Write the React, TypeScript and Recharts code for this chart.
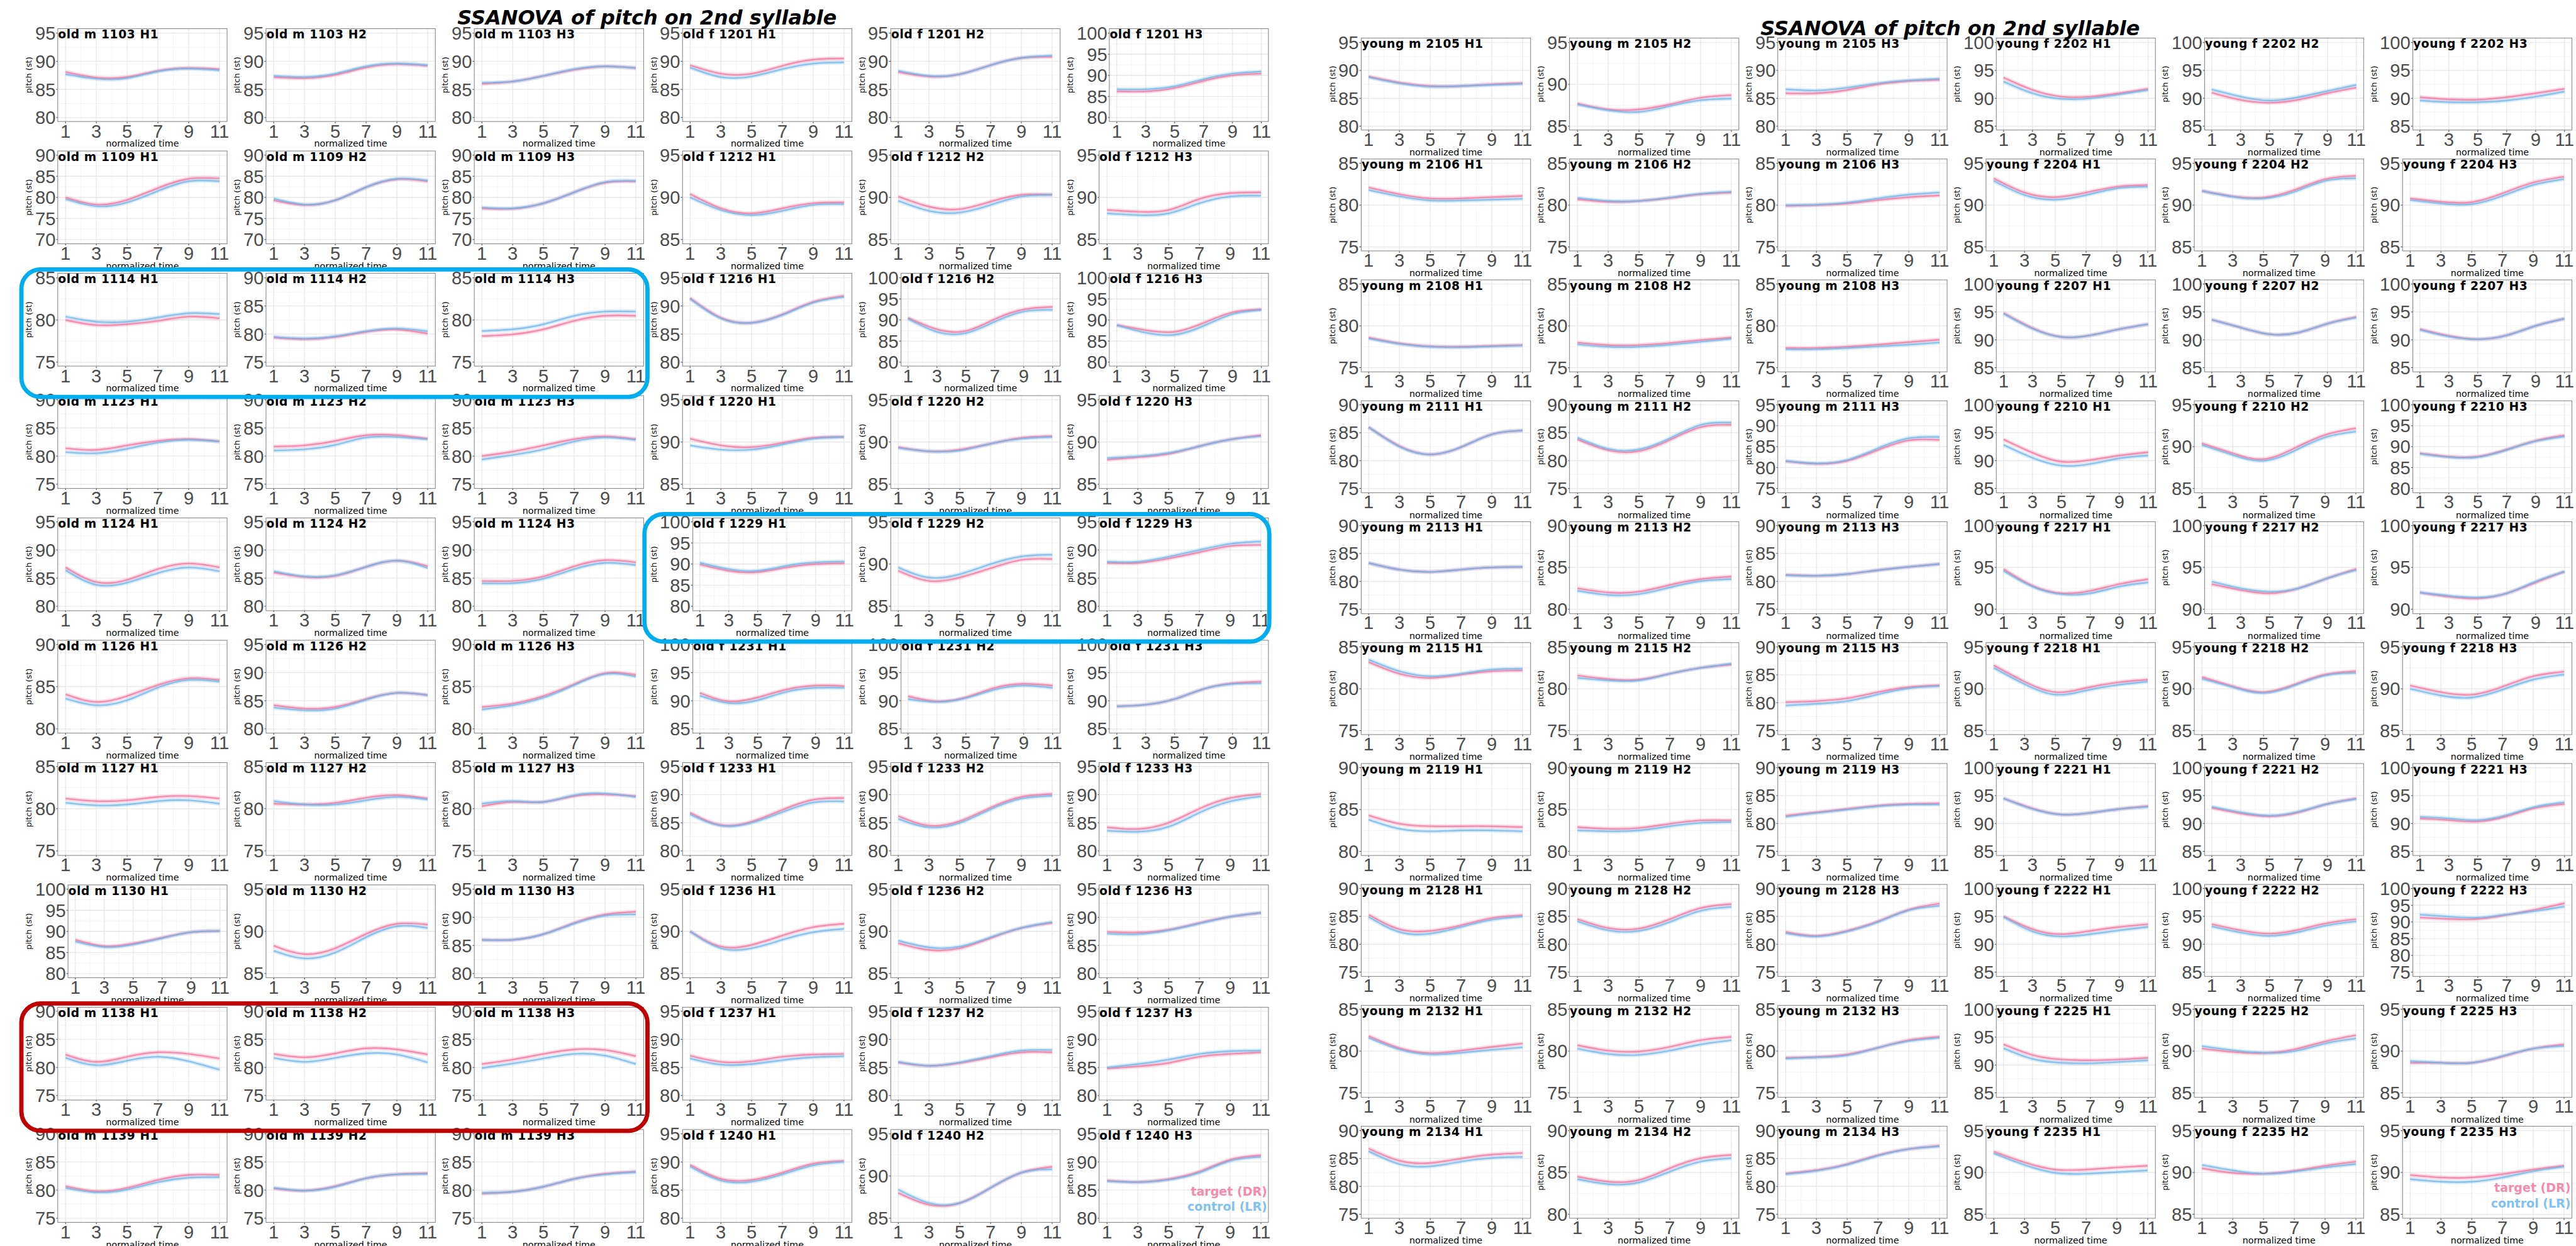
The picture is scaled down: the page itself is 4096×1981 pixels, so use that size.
import React from 'react';
import { LineChart, Line, XAxis, YAxis, CartesianGrid } from 'recharts';

const S = 0.68;

const TIME = [1, 3, 5, 7, 9, 11];
const TIME_MINOR = [2, 4, 6, 8, 10];
const HARMONICS = ['H1', 'H2', 'H3'];

const OLD_M = ['1103', '1109', '1114', '1123', '1124', '1126', '1127', '1130', '1138', '1139'];
const OLD_F = ['1201', '1212', '1216', '1220', '1229', '1231', '1233', '1236', '1237', '1240'];
const YOUNG_M = ['2105', '2106', '2108', '2111', '2113', '2115', '2119', '2128', '2132', '2134'];
const YOUNG_F = ['2202', '2204', '2207', '2210', '2217', '2218', '2221', '2222', '2225', '2235'];

// y limits per speaker, [lo, hi] for H1, H2, H3
const OLD_M_YLIM = [
  [[80, 95], [80, 95], [80, 95]],
  [[70, 90], [70, 90], [70, 90]],
  [[75, 85], [75, 90], [75, 85]],
  [[75, 90], [75, 90], [75, 90]],
  [[80, 95], [80, 95], [80, 95]],
  [[80, 90], [80, 95], [80, 90]],
  [[75, 85], [75, 85], [75, 85]],
  [[80, 100], [85, 95], [80, 95]],
  [[75, 90], [75, 90], [75, 90]],
  [[75, 90], [75, 90], [75, 90]],
];
const OLD_F_YLIM = [
  [[80, 95], [80, 95], [80, 100]],
  [[85, 95], [85, 95], [85, 95]],
  [[80, 95], [80, 100], [80, 100]],
  [[85, 95], [85, 95], [85, 95]],
  [[80, 100], [85, 95], [80, 95]],
  [[85, 100], [85, 100], [85, 100]],
  [[80, 95], [80, 95], [80, 95]],
  [[85, 95], [85, 95], [80, 95]],
  [[80, 95], [80, 95], [80, 95]],
  [[80, 95], [85, 95], [80, 95]],
];
const YOUNG_M_YLIM = [
  [[80, 95], [85, 95], [80, 95]],
  [[75, 85], [75, 85], [75, 85]],
  [[75, 85], [75, 85], [75, 85]],
  [[75, 90], [75, 90], [75, 95]],
  [[75, 90], [80, 90], [75, 90]],
  [[75, 85], [75, 85], [75, 90]],
  [[80, 90], [80, 90], [75, 90]],
  [[75, 90], [75, 90], [75, 90]],
  [[75, 85], [75, 85], [75, 85]],
  [[75, 90], [80, 90], [75, 90]],
];
const YOUNG_F_YLIM = [
  [[85, 100], [85, 100], [85, 100]],
  [[85, 95], [85, 95], [85, 95]],
  [[85, 100], [85, 100], [85, 100]],
  [[85, 100], [85, 95], [80, 100]],
  [[90, 100], [90, 100], [90, 100]],
  [[85, 95], [85, 95], [85, 95]],
  [[85, 100], [85, 100], [85, 100]],
  [[85, 100], [85, 100], [75, 100]],
  [[85, 100], [85, 95], [85, 95]],
  [[85, 95], [85, 95], [85, 95]],
];

// pitch (st) at normalized time 1,3,5,7,9,11
const OLD_M_TARGET = [
  [[88.1, 87.1, 87.2, 88.3, 88.8, 88.6], [87.2, 87.0, 87.6, 88.9, 89.5, 89.2], [86.0, 86.4, 87.4, 88.5, 89.1, 88.8]],
  [[80.0, 78.3, 79.4, 82.2, 84.4, 84.5], [79.3, 78.2, 79.3, 82.4, 84.3, 83.8], [77.4, 77.3, 78.6, 81.2, 83.5, 83.8]],
  [[80.0, 79.4, 79.5, 79.9, 80.4, 80.2], [79.4, 79.1, 79.5, 80.4, 80.8, 80.1], [78.1, 78.3, 78.9, 79.9, 80.5, 80.5]],
  [[81.4, 81.1, 81.9, 82.7, 83.0, 82.6], [81.7, 81.9, 82.7, 83.7, 83.7, 83.1], [80.0, 80.8, 81.9, 83.0, 83.5, 83.0]],
  [[86.9, 84.3, 84.7, 86.6, 87.6, 86.9], [86.0, 85.2, 85.4, 87.0, 88.1, 87.1], [84.5, 84.5, 85.3, 87.1, 88.2, 87.8]],
  [[84.1, 83.2, 83.9, 85.2, 86.0, 85.8], [84.2, 83.6, 83.9, 85.3, 86.4, 86.0], [82.6, 83.0, 83.9, 85.3, 86.6, 86.4]],
  [[81.2, 80.9, 81.0, 81.4, 81.5, 81.2], [80.6, 80.5, 80.7, 81.3, 81.6, 81.2], [80.3, 80.8, 80.8, 81.5, 81.7, 81.5]],
  [[88.0, 86.5, 87.1, 88.5, 89.8, 90.1], [88.3, 87.3, 88.0, 89.7, 90.9, 90.8], [86.0, 86.0, 87.0, 89.0, 90.5, 91.0]],
  [[82.3, 81.0, 81.9, 82.7, 82.4, 81.6], [82.4, 81.8, 82.5, 83.4, 83.2, 82.3], [80.6, 81.4, 82.4, 83.2, 83.1, 82.0]],
  [[80.7, 79.8, 80.4, 81.8, 82.7, 82.7], [80.3, 79.9, 80.7, 82.1, 82.8, 83.0], [79.4, 79.7, 80.6, 82.0, 82.9, 83.3]],
];
const OLD_M_CONTROL = [
  [[87.7, 86.9, 87.0, 88.2, 88.7, 88.4], [87.4, 87.2, 87.8, 89.1, 89.6, 89.3], [86.2, 86.4, 87.4, 88.6, 89.1, 88.8]],
  [[79.6, 77.9, 78.8, 81.5, 83.8, 83.8], [79.7, 78.3, 79.3, 82.4, 84.4, 84.0], [77.6, 77.4, 78.6, 81.2, 83.6, 83.9]],
  [[80.4, 79.8, 79.8, 80.3, 80.8, 80.7], [79.5, 79.2, 79.6, 80.5, 81.0, 80.5], [78.7, 78.9, 79.5, 80.5, 81.0, 81.0]],
  [[80.7, 80.5, 81.3, 82.4, 82.9, 82.6], [81.0, 81.2, 82.0, 83.3, 83.4, 83.0], [79.4, 80.2, 81.2, 82.6, 83.3, 82.9]],
  [[86.4, 83.8, 84.2, 85.9, 86.9, 86.2], [86.2, 85.3, 85.5, 87.0, 88.1, 86.8], [84.1, 84.1, 84.9, 86.6, 87.7, 87.3]],
  [[83.6, 82.8, 83.4, 84.9, 85.8, 85.6], [83.8, 83.3, 83.6, 85.2, 86.4, 86.0], [82.3, 82.8, 83.7, 85.2, 86.5, 86.2]],
  [[80.7, 80.4, 80.5, 80.9, 81.0, 80.6], [80.9, 80.5, 80.5, 81.0, 81.4, 81.1], [80.6, 80.9, 80.8, 81.6, 81.8, 81.4]],
  [[87.6, 86.3, 86.9, 88.4, 89.8, 90.1], [87.7, 86.8, 87.5, 89.3, 90.6, 90.4], [86.0, 86.0, 87.0, 88.9, 90.3, 90.5]],
  [[81.7, 80.4, 81.2, 81.9, 81.1, 79.6], [81.7, 81.0, 81.7, 82.5, 82.3, 80.9], [79.9, 80.7, 81.6, 82.4, 82.1, 80.6]],
  [[80.4, 79.6, 80.1, 81.4, 82.2, 82.3], [80.4, 79.9, 80.6, 82.1, 82.8, 82.9], [79.5, 79.7, 80.6, 82.0, 82.8, 83.2]],
];
const OLD_F_TARGET = [
  [[89.3, 87.8, 87.8, 89.2, 90.3, 90.5], [88.1, 87.3, 87.7, 89.3, 90.6, 90.8], [86.2, 86.2, 87.0, 88.7, 90.0, 90.4]],
  [[90.4, 88.7, 88.1, 88.7, 89.3, 89.4], [90.1, 88.9, 88.6, 89.5, 90.3, 90.3], [88.5, 88.3, 88.5, 89.8, 90.5, 90.6]],
  [[91.4, 87.9, 87.0, 88.5, 90.7, 91.8], [90.5, 87.8, 87.4, 90.2, 92.5, 93.1], [88.8, 87.6, 87.2, 89.3, 91.8, 92.5]],
  [[90.4, 89.6, 89.4, 89.9, 90.5, 90.6], [89.4, 88.9, 89.1, 89.8, 90.5, 90.7], [87.9, 88.2, 88.6, 89.5, 90.3, 90.8]],
  [[89.9, 88.4, 88.1, 89.2, 90.0, 90.2], [89.2, 88.0, 88.4, 89.5, 90.5, 90.6], [87.7, 87.7, 88.5, 89.6, 90.7, 90.9]],
  [[91.4, 89.9, 90.6, 92.0, 92.7, 92.6], [90.8, 89.9, 90.6, 92.3, 93.0, 92.7], [89.0, 89.3, 90.3, 92.1, 93.1, 93.4]],
  [[86.8, 84.6, 85.2, 87.3, 89.1, 89.4], [86.2, 84.5, 85.3, 87.7, 89.6, 90.1], [84.2, 83.9, 85.0, 87.5, 89.4, 90.1]],
  [[90.0, 88.2, 88.4, 89.5, 90.5, 90.9], [88.6, 87.8, 88.0, 89.2, 90.4, 91.0], [87.4, 87.3, 87.8, 89.0, 90.1, 90.8]],
  [[87.1, 86.0, 86.1, 86.9, 87.3, 87.4], [85.9, 85.3, 85.8, 86.8, 87.7, 87.7], [84.8, 85.2, 85.8, 86.9, 87.4, 87.7]],
  [[89.5, 87.0, 86.8, 88.1, 89.7, 90.2], [88.0, 86.6, 86.8, 88.6, 90.4, 91.1], [86.7, 86.45, 86.95, 88.3, 90.4, 91.2]],
];
const OLD_F_CONTROL = [
  [[88.9, 87.2, 87.3, 88.6, 89.6, 89.8], [88.3, 87.4, 87.7, 89.3, 90.6, 91.0], [86.7, 86.7, 87.4, 89.1, 90.4, 90.9]],
  [[90.0, 88.5, 87.9, 88.4, 89.1, 89.2], [89.6, 88.4, 88.2, 89.1, 90.1, 90.3], [88.1, 87.9, 88.1, 89.3, 90.1, 90.2]],
  [[91.3, 87.8, 87.0, 88.4, 90.6, 91.6], [90.3, 87.2, 86.9, 89.6, 92.0, 92.4], [88.8, 87.0, 86.5, 88.6, 91.4, 92.4]],
  [[89.6, 89.1, 89.1, 89.7, 90.4, 90.6], [89.3, 88.9, 89.0, 89.8, 90.4, 90.6], [88.1, 88.3, 88.7, 89.5, 90.3, 90.7]],
  [[90.3, 88.8, 88.4, 89.6, 90.4, 90.6], [89.6, 88.4, 88.8, 90.0, 90.9, 91.1], [87.9, 87.9, 88.8, 90.0, 91.1, 91.5]],
  [[90.9, 89.6, 90.1, 91.6, 92.3, 92.3], [90.3, 89.8, 90.5, 92.0, 92.7, 92.3], [89.0, 89.3, 90.3, 92.1, 93.0, 93.1]],
  [[86.5, 84.5, 85.0, 86.9, 88.6, 88.8], [85.7, 84.2, 85.0, 87.4, 89.3, 89.8], [83.6, 83.4, 84.3, 86.8, 88.8, 89.7]],
  [[90.0, 88.0, 88.0, 89.0, 89.9, 90.3], [88.9, 88.1, 88.2, 89.3, 90.4, 91.1], [87.1, 87.0, 87.7, 88.9, 90.1, 90.8]],
  [[86.6, 85.5, 85.6, 86.3, 86.8, 87.0], [86.0, 85.3, 85.9, 87.0, 88.0, 88.1], [85.0, 85.6, 86.4, 87.4, 87.9, 88.0]],
  [[89.2, 86.7, 86.5, 87.8, 89.4, 90.0], [88.4, 86.8, 86.8, 88.6, 90.4, 90.8], [86.6, 86.4, 86.85, 88.1, 90.2, 90.9]],
];
const YOUNG_M_TARGET = [
  [[88.9, 87.8, 87.2, 87.2, 87.5, 87.7], [87.7, 87.0, 87.0, 87.6, 88.4, 88.7], [85.9, 85.9, 86.5, 87.5, 88.1, 88.3]],
  [[82.1, 81.3, 80.8, 80.8, 80.95, 81.1], [80.7, 80.4, 80.5, 80.85, 81.3, 81.5], [79.9, 80.0, 80.2, 80.6, 80.95, 81.15]],
  [[78.6, 77.9, 77.55, 77.5, 77.6, 77.7], [78.0, 77.7, 77.7, 77.95, 78.3, 78.6], [77.35, 77.35, 77.5, 77.75, 78.05, 78.35]],
  [[86.0, 82.6, 81.1, 82.4, 84.7, 85.4], [83.8, 81.85, 81.7, 83.7, 86.0, 86.4], [81.5, 80.9, 81.6, 84.2, 86.5, 86.6]],
  [[83.3, 82.1, 81.7, 82.1, 82.5, 82.6], [82.5, 82.0, 82.1, 82.9, 83.6, 83.9], [81.15, 81.0, 81.3, 82.0, 82.6, 83.1]],
  [[83.2, 81.8, 81.3, 81.7, 82.1, 82.2], [81.6, 81.15, 81.1, 81.8, 82.5, 82.9], [80.1, 80.3, 80.8, 81.9, 82.8, 83.1]],
  [[84.3, 83.3, 83.0, 83.0, 83.0, 82.9], [82.9, 82.7, 82.8, 83.3, 83.7, 83.7], [81.4, 82.0, 82.6, 83.2, 83.5, 83.6]],
  [[85.3, 82.7, 82.4, 83.4, 84.7, 85.2], [84.5, 82.9, 82.8, 84.5, 86.5, 87.2], [82.2, 81.5, 82.4, 84.1, 86.2, 87.3]],
  [[81.8, 80.35, 79.75, 80.05, 80.5, 80.9], [80.7, 80.05, 79.95, 80.5, 81.3, 81.7], [79.2, 79.3, 79.6, 80.4, 81.3, 81.7]],
  [[86.8, 84.6, 84.2, 85.0, 85.7, 86.0], [84.5, 83.9, 84.1, 85.5, 86.7, 87.1], [82.3, 82.9, 84.0, 85.6, 86.7, 87.3]],
];
const YOUNG_M_CONTROL = [
  [[88.8, 87.7, 87.1, 87.2, 87.4, 87.6], [87.6, 86.9, 86.7, 87.4, 88.1, 88.3], [86.6, 86.4, 86.9, 87.7, 88.2, 88.5]],
  [[81.8, 81.05, 80.55, 80.55, 80.65, 80.75], [80.85, 80.5, 80.5, 80.9, 81.35, 81.6], [80.0, 80.05, 80.3, 80.8, 81.25, 81.5]],
  [[78.5, 77.85, 77.5, 77.45, 77.55, 77.65], [77.8, 77.5, 77.5, 77.75, 78.1, 78.45], [77.2, 77.2, 77.35, 77.55, 77.75, 78.0]],
  [[86.0, 82.5, 81.1, 82.4, 84.7, 85.4], [84.1, 82.1, 82.0, 84.0, 86.4, 86.8], [81.6, 81.0, 81.8, 84.6, 87.0, 87.3]],
  [[83.3, 82.1, 81.7, 82.1, 82.5, 82.6], [82.2, 81.7, 81.8, 82.6, 83.35, 83.6], [81.1, 81.0, 81.3, 82.0, 82.6, 83.1]],
  [[83.5, 82.1, 81.5, 81.8, 82.3, 82.4], [81.3, 81.0, 81.0, 81.8, 82.5, 83.0], [79.5, 79.8, 80.3, 81.5, 82.6, 83.0]],
  [[83.8, 82.7, 82.4, 82.5, 82.5, 82.4], [82.5, 82.4, 82.5, 83.0, 83.4, 83.5], [81.2, 81.9, 82.5, 83.1, 83.4, 83.4]],
  [[84.9, 82.2, 81.9, 83.1, 84.4, 85.0], [84.1, 82.5, 82.4, 84.0, 86.0, 86.7], [82.0, 81.4, 82.3, 84.0, 86.1, 86.9]],
  [[81.6, 80.2, 79.6, 79.8, 80.15, 80.45], [80.3, 79.65, 79.55, 80.05, 80.8, 81.3], [79.1, 79.25, 79.5, 80.4, 81.2, 81.6]],
  [[86.3, 84.0, 83.6, 84.45, 85.1, 85.3], [84.2, 83.6, 83.8, 85.1, 86.3, 86.7], [82.2, 82.8, 83.9, 85.5, 86.7, 87.2]],
];
const YOUNG_F_TARGET = [
  [[93.7, 91.5, 90.3, 90.3, 90.9, 91.7], [91.0, 89.7, 89.2, 89.75, 90.9, 91.9], [90.2, 89.8, 89.75, 90.2, 90.9, 91.7]],
  [[93.2, 91.5, 90.95, 91.5, 92.2, 92.4], [91.7, 91.05, 90.9, 91.8, 93.1, 93.5], [90.8, 90.4, 90.35, 91.4, 92.7, 93.4]],
  [[94.8, 92.1, 90.5, 90.8, 91.9, 92.8], [93.6, 92.2, 91.0, 91.3, 92.9, 94.1], [91.9, 90.7, 90.1, 90.8, 92.5, 93.8]],
  [[93.8, 91.4, 89.8, 90.1, 90.9, 91.5], [90.4, 89.2, 88.5, 89.8, 91.4, 92.2], [88.4, 87.6, 87.6, 89.3, 91.4, 92.7]],
  [[94.8, 92.8, 91.9, 92.2, 93.0, 93.6], [93.0, 92.3, 91.9, 92.5, 93.7, 94.8], [92.0, 91.5, 91.3, 91.9, 93.2, 94.5]],
  [[92.8, 90.85, 89.6, 90.1, 90.75, 91.1], [91.4, 90.3, 89.6, 90.5, 91.7, 92.1], [90.4, 89.6, 89.3, 90.25, 91.5, 92.05]],
  [[94.5, 92.7, 91.6, 91.9, 92.6, 93.1], [92.8, 91.8, 91.3, 92.0, 93.5, 94.5], [90.9, 90.6, 90.35, 91.3, 92.8, 93.5]],
  [[95.0, 92.7, 91.8, 92.4, 93.1, 93.6], [93.6, 92.5, 91.9, 92.6, 93.8, 94.5], [91.3, 90.9, 90.9, 92.1, 93.7, 95.6]],
  [[93.7, 91.8, 91.0, 90.85, 91.0, 91.3], [90.3, 89.9, 89.75, 90.2, 91.15, 91.9], [88.6, 88.6, 88.6, 89.35, 90.3, 90.8]],
  [[92.5, 91.2, 90.35, 90.35, 90.6, 90.8], [90.5, 89.95, 89.85, 90.2, 90.8, 91.3], [89.7, 89.4, 89.4, 89.8, 90.35, 90.8]],
];
const YOUNG_F_CONTROL = [
  [[93.0, 90.9, 89.9, 90.0, 90.7, 91.5], [91.6, 90.3, 89.6, 90.2, 91.3, 92.4], [89.6, 89.3, 89.3, 89.6, 90.3, 91.2]],
  [[92.9, 91.2, 90.65, 91.2, 92.0, 92.2], [91.7, 91.0, 90.8, 91.6, 92.9, 93.2], [90.6, 90.2, 90.1, 91.1, 92.4, 93.1]],
  [[94.7, 92.0, 90.5, 90.8, 91.9, 92.8], [93.6, 92.2, 91.0, 91.3, 92.9, 94.0], [91.8, 90.6, 90.1, 90.8, 92.5, 93.8]],
  [[92.8, 90.5, 89.1, 89.4, 90.4, 90.9], [90.2, 89.0, 88.3, 89.5, 91.1, 91.8], [88.3, 87.5, 87.5, 89.2, 91.3, 92.4]],
  [[94.6, 92.7, 91.8, 91.9, 92.7, 93.2], [93.3, 92.5, 92.1, 92.5, 93.7, 94.7], [92.0, 91.6, 91.4, 91.9, 93.3, 94.5]],
  [[92.5, 90.55, 89.3, 89.8, 90.45, 90.85], [91.2, 90.2, 89.5, 90.4, 91.6, 91.9], [90.0, 89.2, 88.95, 89.9, 91.1, 91.7]],
  [[94.5, 92.6, 91.6, 91.9, 92.6, 93.0], [93.0, 92.0, 91.4, 92.1, 93.5, 94.4], [91.2, 90.9, 90.6, 91.5, 93.0, 93.8]],
  [[94.9, 92.3, 91.4, 91.8, 92.5, 93.1], [93.2, 92.1, 91.5, 92.2, 93.4, 94.1], [92.2, 91.6, 91.3, 92.2, 93.3, 94.6]],
  [[93.0, 91.1, 90.4, 90.3, 90.55, 90.85], [90.6, 90.1, 89.8, 90.0, 90.9, 91.5], [88.8, 88.6, 88.6, 89.4, 90.3, 90.6]],
  [[92.3, 90.9, 89.95, 89.85, 90.05, 90.25], [90.9, 90.25, 89.85, 90.1, 90.6, 91.0], [89.2, 88.9, 88.9, 89.4, 90.15, 90.7]],
];

const PINK = '#f0749f';
const PINK_BAND = '#f6a9c4';
const BLUE = '#72b4e6';
const BLUE_BAND = '#a8d2f1';
const TICK_FONT = '"Liberation Sans", Arial, sans-serif';
const TEXT_FONT = '"DejaVu Sans", Verdana, sans-serif';

// layout in reference pixels, scaled by S at draw time
const COL_STEP = 487;
const PLOT_W = 396;
const WIDE_SHIFT = 24;
const YW = 100;
const MT = 12;
const MR = 12;
const XH = 48;

const HALVES = [
  {
    x0: 135, y0: 67, rowStep: 286, plotH: 217, titleX: 1513, titleY: 58,
    groups: [
      { name: 'old m', ids: OLD_M, ylim: OLD_M_YLIM, target: OLD_M_TARGET, control: OLD_M_CONTROL },
      { name: 'old f', ids: OLD_F, ylim: OLD_F_YLIM, target: OLD_F_TARGET, control: OLD_F_CONTROL },
    ],
  },
  {
    x0: 3183, y0: 89, rowStep: 282.7, plotH: 215, titleX: 4560, titleY: 82,
    groups: [
      { name: 'young m', ids: YOUNG_M, ylim: YOUNG_M_YLIM, target: YOUNG_M_TARGET, control: YOUNG_M_CONTROL },
      { name: 'young f', ids: YOUNG_F, ylim: YOUNG_F_YLIM, target: YOUNG_F_TARGET, control: YOUNG_F_CONTROL },
    ],
  },
];

const BOXES = [
  { x: 50, y: 630, w: 1464, h: 298, color: '#00aeef' },
  { x: 1507, y: 1202, w: 1461, h: 298, color: '#00aeef' },
  { x: 50, y: 2346, w: 1464, h: 298, color: '#c00000' },
];

type Spec = {
  key: string;
  x: number;
  y: number;
  plotH: number;
  label: string;
  ylim: number[];
  target: number[];
  control: number[];
  legend: boolean;
};

function buildPanels(): Spec[] {
  const out: Spec[] = [];
  HALVES.forEach((half) => {
    half.groups.forEach((g, gi) => {
      g.ids.forEach((id, r) => {
        HARMONICS.forEach((h, hi) => {
          const c = gi * 3 + hi;
          out.push({
            key: `${g.name}-${id}-${h}`,
            x: half.x0 + c * COL_STEP,
            y: half.y0 + r * half.rowStep,
            plotH: half.plotH,
            label: `${g.name} ${id} ${h}`,
            ylim: g.ylim[r][hi],
            target: g.target[r][hi],
            control: g.control[r][hi],
            legend: r === 9 && c === 5,
          });
        });
      });
    });
  });
  return out;
}

const PANELS = buildPanels();

function Panel({ spec }: { spec: Spec }) {
  const [lo, hi] = spec.ylim;
  const shift = hi >= 100 ? WIDE_SHIFT : 0;
  const pad = (hi - lo) * 0.05;
  const majors: number[] = [];
  for (let v = lo; v <= hi; v += 5) majors.push(v);
  const minors: number[] = [];
  for (let v = lo + 2.5; v < hi; v += 5) minors.push(v);
  const ph = spec.plotH * S;
  const rows = TIME.map((t, i) => ({ t, target: spec.target[i], control: spec.control[i] }));
  const tickStyle = { fill: '#4d4d4d', fontSize: 43 * S, fontFamily: TICK_FONT };

  return (
    <div style={{ position: 'absolute', left: (spec.x - YW) * S, top: spec.y * S - MT }}>
      <LineChart
        width={(YW + PLOT_W) * S + MR}
        height={MT + ph + XH}
        data={rows}
        margin={{ top: MT, right: MR, bottom: 0, left: 0 }}
      >
        <CartesianGrid horizontalValues={minors} verticalValues={TIME_MINOR} stroke="#f1f1f1" strokeWidth={0.8} />
        <CartesianGrid horizontalValues={majors} verticalValues={TIME} stroke="#e8e8e8" strokeWidth={1.3} />
        <XAxis
          dataKey="t"
          type="number"
          domain={[0.5, 11.5]}
          ticks={TIME}
          interval={0}
          height={XH}
          axisLine={false}
          tickLine={{ stroke: '#333333', strokeWidth: 1 }}
          tickSize={2.5}
          tickMargin={2}
          tick={tickStyle}
        />
        <YAxis
          type="number"
          domain={[lo - pad, hi + pad]}
          ticks={majors}
          interval={0}
          allowDataOverflow
          width={(YW + shift) * S}
          axisLine={false}
          tickLine={{ stroke: '#333333', strokeWidth: 1 }}
          tickSize={2.5}
          tickMargin={1}
          tick={tickStyle}
        />
        <Line type="natural" dataKey="target" stroke={PINK_BAND} strokeWidth={6.5} strokeOpacity={0.45} dot={false} activeDot={false} isAnimationActive={false} />
        <Line type="natural" dataKey="control" stroke={BLUE_BAND} strokeWidth={6.5} strokeOpacity={0.45} dot={false} activeDot={false} isAnimationActive={false} />
        <Line type="natural" dataKey="target" stroke={PINK} strokeWidth={2.4} strokeOpacity={0.75} dot={false} activeDot={false} isAnimationActive={false} />
        <Line type="natural" dataKey="control" stroke={BLUE} strokeWidth={2.4} strokeOpacity={0.75} dot={false} activeDot={false} isAnimationActive={false} />
      </LineChart>
    </div>
  );
}

function PanelText({ spec }: { spec: Spec }) {
  const shift = spec.ylim[1] >= 100 ? WIDE_SHIFT : 0;
  const left = (spec.x + shift) * S;
  const top = spec.y * S;
  const w = (PLOT_W - shift) * S;
  const h = spec.plotH * S;
  const right = (spec.x + PLOT_W) * S;
  return (
    <g>
      <rect x={left} y={top} width={w} height={h} fill="none" stroke="#8a8a8a" strokeWidth={1.1} />
      <text x={left + 0.5} y={top + 23 * S} fontFamily={TEXT_FONT} fontWeight={700} fontSize={27.5 * S} letterSpacing={0.6} fill="#000">
        {spec.label}
      </text>
      <text x={left + w / 2} y={top + h + 59 * S} fontFamily={TEXT_FONT} fontSize={21 * S} textAnchor="middle" fill="#000">
        normalized time
      </text>
      <text
        transform={`translate(${(spec.x - 68) * S}, ${top + h / 2}) rotate(-90)`}
        fontFamily={TEXT_FONT}
        fontSize={19 * S}
        textAnchor="middle"
        dominantBaseline="central"
        fill="#000"
      >
        pitch (st)
      </text>
      {spec.legend && (
        <g fontFamily={TEXT_FONT} fontWeight={700} fontSize={28 * S} textAnchor="end">
          <text x={right - 3 * S} y={top + 154 * S} fill="#f48aae">target (DR)</text>
          <text x={right - 3 * S} y={top + 190 * S} fill="#82c2ee">control (LR)</text>
        </g>
      )}
    </g>
  );
}

export default function App() {
  return (
    <div
      style={{
        position: 'absolute',
        left: 0,
        top: 0,
        width: 4096,
        height: 1981,
        overflow: 'hidden',
        background: '#ffffff',
      }}
    >
      {PANELS.map((p) => (
        <Panel key={p.key} spec={p} />
      ))}
      <svg width={4096} height={1981} style={{ position: 'absolute', left: 0, top: 0, pointerEvents: 'none' }}>
        {PANELS.map((p) => (
          <PanelText key={p.key} spec={p} />
        ))}
        {HALVES.map((h, i) => (
          <text
            key={i}
            x={h.titleX * S}
            y={h.titleY * S}
            textAnchor="middle"
            fontFamily={TEXT_FONT}
            fontWeight={700}
            fontStyle="italic"
            fontSize={47 * S}
            fill="#000"
          >
            SSANOVA of pitch on 2nd syllable
          </text>
        ))}
        {BOXES.map((b, i) => (
          <rect
            key={i}
            x={b.x * S}
            y={b.y * S}
            width={b.w * S}
            height={b.h * S}
            rx={45 * S}
            ry={45 * S}
            fill="none"
            stroke={b.color}
            strokeWidth={10 * S}
          />
        ))}
      </svg>
    </div>
  );
}
